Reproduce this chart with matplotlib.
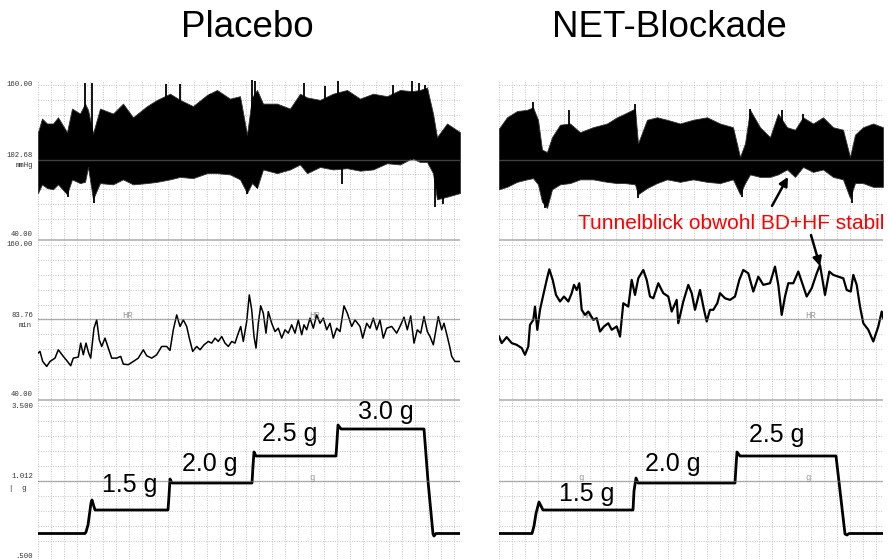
import matplotlib
matplotlib.use("Agg")
import matplotlib.pyplot as plt
from matplotlib.ticker import MultipleLocator, FixedLocator
import numpy as np

W, H = 889, 559

# ------------------------------------------------------------------ data
panel_titles = ["Placebo", "NET-Blockade"]
annotation_text = "Tunnelblick obwohl BD+HF stabil"
stage_labels_placebo = ["1.5 g", "2.0 g", "2.5 g", "3.0 g"]
stage_labels_net = ["1.5 g", "2.0 g", "2.5 g"]

fbp_tick_labels = ["40.00", "102.68", "160.00"]
hr_tick_labels = ["40.00", "83.76", "160.00"]
g_tick_labels = [".500", "1.012", "3.500"]
unit_labels = ["mmHg", "min", "|  g"]

# Placebo - finger blood pressure (upper / lower envelope, mmHg)
pl_fbp_t = [0, 4, 9, 15, 20, 29, 34, 42, 47, 50, 55, 62, 75, 85, 95, 109, 119, 132,
            142, 155, 169, 179, 192, 202, 209, 214, 219, 225, 239, 252, 262, 269,
            282, 295, 309, 322, 335, 349, 362, 374, 382, 389, 395, 399, 409, 422]
pl_fbp_hi = [122, 133, 129, 129, 134, 122, 141, 137, 145, 140, 121, 141, 137, 145, 134,
             143, 148, 153, 148, 143, 152, 156, 149, 151, 120, 150, 156, 145, 145, 141,
             153, 150, 148, 153, 156, 149, 153, 151, 156, 155, 156, 158, 137, 118, 129, 122]
pl_fbp_lo = [73, 80, 77, 76, 80, 72, 84, 81, 82, 94, 68, 81, 80, 84, 80, 81, 82, 84, 86,
             85, 89, 89, 88, 84, 73, 81, 77, 92, 89, 92, 96, 89, 94, 92, 93, 91, 92, 97,
             96, 101, 98, 98, 89, 68, 70, 73]
pl_spike_hi_t = [47, 54, 128, 142, 172, 214, 217, 266, 287, 300, 355, 374, 381, 387]
pl_spike_hi_v = [162, 162, 161, 161, 153, 164, 163, 162, 159, 163, 160, 163, 162, 160]
pl_spike_lo_t = [30, 56, 209, 219, 304, 397, 405]
pl_spike_lo_v = [70, 65, 72, 77, 80, 62, 64]

# NET-Blockade - finger blood pressure
net_fbp_t = [0, 8, 18, 28, 34, 39, 43, 48, 53, 61, 71, 81, 94, 108, 118, 126, 136, 139,
             148, 158, 168, 181, 194, 208, 221, 234, 241, 246, 251, 261, 271, 279, 288,
             296, 304, 314, 324, 334, 344, 351, 356, 364, 374, 384]
net_fbp_hi = [125, 134, 139, 140, 142, 132, 108, 106, 118, 128, 129, 122, 126, 129, 134,
              137, 141, 113, 132, 134, 132, 129, 132, 134, 129, 126, 102, 113, 140, 126,
              118, 137, 126, 124, 134, 129, 134, 126, 124, 102, 120, 126, 129, 126]
net_fbp_lo = [76, 78, 82, 84, 85, 80, 66, 61, 76, 80, 81, 84, 84, 82, 81, 81, 80, 72, 77,
              81, 84, 82, 84, 82, 81, 84, 72, 81, 88, 86, 86, 88, 92, 86, 94, 90, 92, 86,
              84, 69, 81, 81, 78, 78]
net_spike_hi_t = [34, 70, 136, 251, 283, 304]
net_spike_hi_v = [146, 140, 145, 141, 140, 137]
net_spike_lo_t = [46, 139, 243, 353]
net_spike_lo_v = [61, 69, 70, 65]

# Placebo - heart rate (1/min)
pl_hr_t = [0, 2, 4.7, 8.7, 12, 17, 20.3, 25.3, 28.7, 32.7, 35.3, 40.3, 42.7, 45.3, 48,
           50.7, 52.7, 56, 58.7, 61.3, 63.7, 67, 70.3, 73.7, 78.7, 82.7, 85.3, 90.3, 95.3,
           100.3, 105.3, 108.7, 113.7, 118.7, 123.7, 128.7, 132, 135.3, 138.7, 142, 145.3,
           148.7, 151.3, 154.7, 158.7, 162, 166, 170.3, 173.7, 177, 180.3, 183.7, 187,
           190.3, 193.7, 197, 200.3, 202.7, 205.3, 208.7, 211.3, 213.7, 216, 218, 220.3,
           222.7, 225.3, 228, 230.3, 233.7, 237, 240.3, 243.7, 247, 250.3, 253.7, 257,
           260.3, 263.7, 266, 268.7, 272, 275.3, 278.7, 282, 285.3, 288.7, 292, 295.3,
           298.7, 302, 306, 309.3, 313.7, 317, 322, 324.7, 328.7, 332, 335.3, 338.7, 342,
           345.3, 348.7, 353.7, 358.7, 362, 366, 369.3, 372.7, 376, 379.3, 382.7, 386,
           389.3, 392, 395.3, 400.3, 403.7, 406, 409.3, 412, 413.7, 417, 422]
pl_hr_v = [72.9, 74.3, 66.2, 62.2, 66.2, 68.9, 75.6, 70.3, 67.0, 62.8, 68.9, 69.7, 81.0,
           71.6, 81.0, 72.9, 68.9, 93.0, 99.7, 83.6, 78.3, 85.0, 77.0, 68.9, 68.9, 70.3,
           64.1, 63.6, 66.2, 68.9, 75.6, 70.8, 68.9, 71.6, 78.3, 78.3, 75.1, 91.7, 103.7,
           94.4, 99.7, 94.4, 85.0, 74.3, 78.3, 75.6, 79.6, 82.3, 81.0, 85.0, 82.3, 86.3,
           81.0, 78.3, 82.3, 81.0, 89.0, 94.4, 82.3, 98.4, 119.8, 107.8, 86.3, 77.0, 97.0,
           111.0, 105.1, 89.0, 106.4, 97.0, 90.3, 93.0, 85.0, 91.7, 89.0, 95.7, 89.0, 99.7,
           87.7, 95.7, 91.7, 101.1, 93.0, 103.7, 97.0, 101.1, 91.7, 97.0, 85.0, 93.0, 90.3,
           111.0, 105.1, 94.4, 99.7, 94.4, 85.0, 97.0, 93.0, 101.1, 91.7, 99.7, 85.0, 93.0,
           94.4, 89.0, 94.4, 101.9, 91.7, 102.9, 81.0, 91.7, 89.0, 102.4, 90.3, 86.3, 79.6,
           102.4, 91.7, 97.0, 86.3, 77.0, 70.3, 66.2, 66.2]

# NET-Blockade - heart rate
net_hr_t = [0, 2.7, 7.7, 12.7, 17.7, 22.7, 26, 29.3, 31, 34.3, 36, 38.3, 41, 44.3, 47.7,
            50.3, 53.7, 57, 61, 65, 69.3, 72.7, 75, 77.7, 80.3, 82.7, 86, 89.3, 94.3, 97.7,
            101, 105, 109.3, 112.7, 117.7, 121, 124.3, 129.3, 132.7, 136, 139.3, 144.3,
            147.7, 151, 154.3, 159.3, 164.3, 169.3, 172.7, 177.7, 179.3, 184.3, 189.3,
            192.7, 196, 201, 205, 207.7, 211, 214.3, 218.3, 221, 226, 231, 236, 240.3,
            244.3, 249.3, 254.3, 259.3, 264.3, 271, 276, 279.3, 282.7, 286, 289.3, 294.3,
            299.3, 302.7, 307.7, 312.7, 317.7, 321, 326, 330.3, 334.3, 339.3, 344.3, 347.7,
            351.7, 354.3, 357.7, 361, 364.3, 369.3, 374.3, 379.3, 382.7, 384.3]
net_hr_v = [86.3, 81.0, 85.8, 81.0, 79.6, 77.0, 71.6, 78.3, 95.7, 99.7, 110.4, 91.7, 107.8,
            119.8, 131.9, 140.4, 131.9, 119.8, 114.5, 118.5, 114.5, 121.2, 127.9, 123.8,
            129.2, 107.8, 103.7, 106.4, 99.7, 101.1, 90.3, 94.4, 97.0, 91.7, 94.4, 86.3,
            113.1, 110.4, 131.9, 119.8, 133.2, 139.9, 131.9, 118.5, 117.1, 129.2, 121.2,
            118.5, 106.4, 115.8, 97.0, 114.5, 127.9, 121.2, 107.8, 123.8, 107.8, 98.4,
            107.8, 107.8, 113.1, 121.2, 117.1, 115.8, 118.5, 131.9, 139.9, 137.2, 122.5,
            134.5, 127.9, 129.2, 142.6, 127.9, 103.7, 118.5, 129.2, 129.2, 138.6, 130.5,
            118.5, 125.2, 137.2, 143.9, 119.8, 138.6, 135.9, 134.5, 133.2, 123.8, 122.5,
            135.9, 127.9, 110.4, 97.0, 91.7, 82.3, 94.4, 106.4, 101.1]

# G-level (g)
pl_g_t = [0, 47, 48, 50, 53, 54, 57, 130, 131, 132, 134, 214, 215, 216, 218, 298, 299,
          300, 303, 386, 390, 395, 396, 398, 422]
pl_g_v = [0.95, 0.95, 0.98, 1.12, 1.56, 1.62, 1.42, 1.42, 1.7, 2.04, 1.96, 1.96, 2.3,
          2.58, 2.5, 2.5, 2.8, 3.12, 3.04, 3.04, 2.0, 0.94, 0.9, 0.95, 0.95]
net_g_t = [0, 33, 35, 37, 40, 44, 134, 135, 137, 139, 236, 237, 238, 241, 337, 346, 348,
           350, 384]
net_g_v = [0.95, 0.95, 1.1, 1.35, 1.58, 1.42, 1.42, 1.8, 2.06, 1.96, 1.96, 2.3, 2.58, 2.5,
           2.5, 0.94, 0.92, 0.95, 0.95]

# ------------------------------------------------------------------ layout / style
GRID = "#c4c4c4"
SEP = "#b8b8b8"
MONO = ["Liberation Mono", "DejaVu Sans Mono"]
SANS = ["Liberation Sans", "DejaVu Sans"]

fig = plt.figure(figsize=(W / 100, H / 100), dpi=100)
fig.patch.set_facecolor("white")


def px_axes(x0, x1, y0, y1):
    return fig.add_axes([x0 / W, 1 - y1 / H, (x1 - x0) / W, (y1 - y0) / H])


ROWS = {"fbp": (85, 234), "hr": (245, 394), "g": (406, 556)}
PANELS = [(38, 460, 422), (499, 883, 384)]


def background(x0, x1, tmax):
    ax = px_axes(x0, x1, 80, 559)
    ax.set_xlim(0, tmax)
    ax.set_ylim(559, 80)
    ax.xaxis.set_major_locator(MultipleLocator(13))
    ax.grid(axis="x", color=GRID, ls=(0, (1, 1.5)), lw=0.7)
    ax.tick_params(length=0, labelleft=False, labelbottom=False)
    for s in ax.spines.values():
        s.set_visible(False)
    for y in (240, 400):
        ax.axhline(y, color=SEP, lw=1.3)
    return ax


def strip(x0, x1, tmax, row, lo, hi, center):
    y0, y1 = ROWS[row]
    ax = px_axes(x0, x1, y0, y1)
    ax.set_xlim(0, tmax)
    ax.set_ylim(lo, hi)
    ax.patch.set_alpha(0)
    for s in ax.spines.values():
        s.set_visible(False)
    ax.set_axisbelow(True)
    ax.yaxis.set_major_locator(FixedLocator(np.linspace(lo, hi, 11)))
    ax.grid(axis="y", color=GRID, ls=(0, (1, 1.5)), lw=0.7)
    ax.tick_params(length=0, labelleft=False, labelbottom=False)
    ax.axhline(center, color="#777777", alpha=0.55, lw=1.0, zorder=3)
    return ax


def ylab(ax, text, yval, dx, dy, ha="right"):
    ax.annotate(text, xy=(0, yval), xycoords=ax.get_yaxis_transform(),
                xytext=(dx, dy), textcoords="offset pixels", ha=ha, va="center",
                fontsize=5.2, family=MONO, color="#333333", annotation_clip=False)


def watermark(ax, text, ts, yval):
    for t in ts:
        ax.text(t, yval, text, fontsize=6.5, family=MONO, color="#9a9a9a",
                ha="center", va="center", zorder=1)


datasets = [
    dict(fbp=(pl_fbp_t, pl_fbp_hi, pl_fbp_lo), shi=(pl_spike_hi_t, pl_spike_hi_v),
         slo=(pl_spike_lo_t, pl_spike_lo_v), hr=(pl_hr_t, pl_hr_v), g=(pl_g_t, pl_g_v),
         hrlw=1.1, wm=[92, 280], wmhr=[90, 277], wmg=[274]),
    dict(fbp=(net_fbp_t, net_fbp_hi, net_fbp_lo), shi=(net_spike_hi_t, net_spike_hi_v),
         slo=(net_spike_lo_t, net_spike_lo_v), hr=(net_hr_t, net_hr_v),
         g=(net_g_t, net_g_v), hrlw=1.6, wm=[89, 314], wmhr=[88, 312], wmg=[82, 309]),
]

axes_by_panel = []
for (x0, x1, tmax), d in zip(PANELS, datasets):
    background(x0, x1, tmax)
    a_fbp = strip(x0, x1, tmax, "fbp", 40, 160, 100)
    a_hr = strip(x0, x1, tmax, "hr", 40, 160, 100)
    a_g = strip(x0, x1, tmax, "g", 0.5, 3.5, 2.0)

    t, hi, lo = d["fbp"]
    a_fbp.fill_between(t, lo, hi, color="black", lw=0.6, edgecolor="#333333", zorder=2)
    a_fbp.vlines(d["shi"][0], 100, d["shi"][1], color="black", lw=1.3, zorder=2,
                 clip_on=False)
    a_fbp.vlines(d["slo"][0], d["slo"][1], 100, color="black", lw=1.3, zorder=2)
    watermark(a_fbp, "FBP", d["wm"], 104)

    a_hr.plot(*d["hr"], color="black", lw=d["hrlw"], zorder=2)
    watermark(a_hr, "HR", d["wmhr"], 103)

    a_g.plot(*d["g"], color="black", lw=2.0, zorder=2)
    watermark(a_g, "g", d["wmg"], 2.08)
    axes_by_panel.append((a_fbp, a_hr, a_g))

# left-hand scale labels (only on the Placebo panel)
a_fbp, a_hr, a_g = axes_by_panel[0]
ylab(a_fbp, fbp_tick_labels[2], 160, -5, 0)
ylab(a_fbp, fbp_tick_labels[1], 100, -5, 4)
ylab(a_fbp, unit_labels[0], 100, -5, -6)
ylab(a_fbp, fbp_tick_labels[0], 40, -5, 0)
ylab(a_hr, hr_tick_labels[2], 160, -5, 0)
ylab(a_hr, hr_tick_labels[1], 100, -5, 4)
ylab(a_hr, unit_labels[1], 100, -13, -6, ha="center")
ylab(a_hr, hr_tick_labels[0], 40, -5, 0)
ylab(a_g, g_tick_labels[2], 3.5, -5, 0)
ylab(a_g, g_tick_labels[1], 2.0, -5, 4)
ylab(a_g, unit_labels[2], 2.0, -29, -7, ha="left")
ylab(a_g, g_tick_labels[0], 0.5, -5, 0)

# stage labels
for lab, tx, gy in zip(stage_labels_placebo, [92, 172, 252, 348], [1.78, 2.2, 2.79, 3.24]):
    a_g.text(tx, gy, lab, fontsize=18, family=SANS, ha="center", va="baseline", zorder=4)
r_fbp, r_hr, r_g = axes_by_panel[1]
for lab, tx, gy in zip(stage_labels_net, [88, 174, 278], [1.6, 2.2, 2.78]):
    r_g.text(tx, gy, lab, fontsize=18, family=SANS, ha="center", va="baseline", zorder=4)

# titles
fig.text(247.5 / W, 1 - 36.7 / H, panel_titles[0], fontsize=26.5, family=SANS,
         ha="center", va="baseline")
fig.text(669 / W, 1 - 36.7 / H, panel_titles[1], fontsize=26.5, family=SANS,
         ha="center", va="baseline")

# annotation
fig.text(577.7 / W, 1 - 229.3 / H, annotation_text, fontsize=15, family=SANS,
         color="#ff0000", ha="left", va="baseline")
arrow = dict(arrowstyle="-|>", color="black", lw=1.8, mutation_scale=13,
             shrinkA=0, shrinkB=0)
r_fbp.annotate("", xy=(289, 86), xytext=(273, 62.6), arrowprops=arrow,
               annotation_clip=False)
r_hr.annotate("", xy=(321, 143), xytext=(312, 168), arrowprops=arrow,
              annotation_clip=False)

fig.savefig("out.png", dpi=100)
